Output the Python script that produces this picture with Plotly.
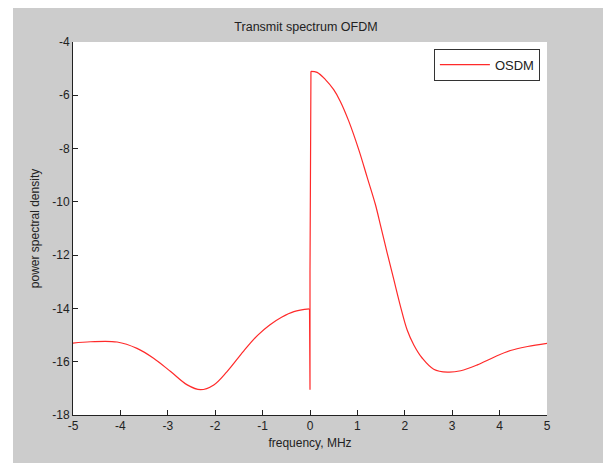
import plotly.graph_objects as go

# Left part of spectrum (negative frequencies)
freq_left = [-5.0, -4.63, -4.07, -3.65, -3.3, -2.94, -2.59, -2.31, -2.03, -1.75, -1.4, -1.1, -0.85, -0.6, -0.34, -0.01]
psd_left = [-15.3, -15.25, -15.26, -15.5, -15.87, -16.37, -16.87, -17.05, -16.87, -16.37, -15.6, -15.0, -14.62, -14.33, -14.12, -14.02]

# DC transition
freq_mid = [-0.01, 0.0, 0.0, 0.02]
psd_mid = [-14.02, -17.05, -12.63, -5.10]

# Right part of spectrum (positive frequencies)
freq_right = [0.02, 0.15, 0.33, 0.50, 0.64, 0.82, 1.03, 1.21, 1.38, 1.49, 1.63, 1.77, 1.91, 2.05, 2.19, 2.37, 2.61, 2.90, 3.18, 3.53, 3.88, 4.23, 4.59, 5.0]
psd_right = [-5.10, -5.14, -5.42, -5.79, -6.23, -6.98, -8.05, -9.1, -10.1, -10.9, -11.93, -12.93, -13.93, -14.81, -15.37, -15.87, -16.28, -16.39, -16.34, -16.12, -15.83, -15.58, -15.43, -15.31]

x_ticks = [-5, -4, -3, -2, -1, 0, 1, 2, 3, 4, 5]
x_ticktext = ["-5", "-4", "-3", "-2", "-1", "0", "1", "2", "3", "4", "5"]
y_ticks = [-18, -16, -14, -12, -10, -8, -6, -4]
y_ticktext = ["-18", "-16", "-14", "-12", "-10", "-8", "-6", "-4"]

RED = "#ff2a2a"
line_style = dict(color=RED, width=1.2)

fig = go.Figure()
fig.add_trace(go.Scatter(x=freq_left, y=psd_left, mode="lines", line=dict(shape="spline", smoothing=1.0, **line_style),
                         name="OSDM", legendgroup="o", showlegend=True))
fig.add_trace(go.Scatter(x=freq_mid, y=psd_mid, mode="lines", line=line_style,
                         name="OSDM", legendgroup="o", showlegend=False))
fig.add_trace(go.Scatter(x=freq_right, y=psd_right, mode="lines", line=dict(shape="spline", smoothing=1.0, **line_style),
                         name="OSDM", legendgroup="o", showlegend=False))

FONT = "Liberation Sans, Arial, sans-serif"
axis_common = dict(showgrid=False, zeroline=False, showline=True, linecolor="#222222", linewidth=1,
                   ticks="inside", ticklen=5, tickcolor="#222222", tickfont=dict(family=FONT, size=12, color="#222222"),
                   mirror=False, automargin=False)

# page body has an 8px default margin, so the figure is offset by 8px
fig.update_layout(
    width=611, height=463,
    margin=dict(l=65, r=72, t=34, b=56),
    paper_bgcolor="white",
    plot_bgcolor="white",
    font=dict(family=FONT, size=12, color="#222222"),
    title=dict(text="Transmit spectrum OFDM", x=298 / 611, xanchor="center", y=1 - 19 / 463, yanchor="middle",
               font=dict(family=FONT, size=12.5, color="#222222")),
    xaxis=dict(range=[-5, 5], tickvals=x_ticks, ticktext=x_ticktext,
               title=dict(text="frequency, MHz", font=dict(family=FONT, size=12, color="#222222"), standoff=6),
               **axis_common),
    yaxis=dict(range=[-18, -4], tickvals=y_ticks, ticktext=y_ticktext,
               title=dict(text="power spectral density", font=dict(family=FONT, size=12, color="#222222"), standoff=10),
               **axis_common),
    legend=dict(x=0.985, y=0.982, xanchor="right", yanchor="top", bgcolor="white",
                bordercolor="#333333", borderwidth=1, font=dict(family=FONT, size=13, color="#222222"),
                itemwidth=50, tracegroupgap=0),
    shapes=[
        dict(type="rect", xref="paper", yref="paper", x0=-0.1266, x1=1.1203, y0=-0.3, y1=1.1,
             fillcolor="#cccccc", line=dict(width=0), layer="below"),
        dict(type="rect", xref="paper", yref="paper", x0=0, x1=1, y0=0, y1=1,
             fillcolor="white", line=dict(width=0), layer="below"),
    ],
    showlegend=True,
)

fig.write_html("out.html")
